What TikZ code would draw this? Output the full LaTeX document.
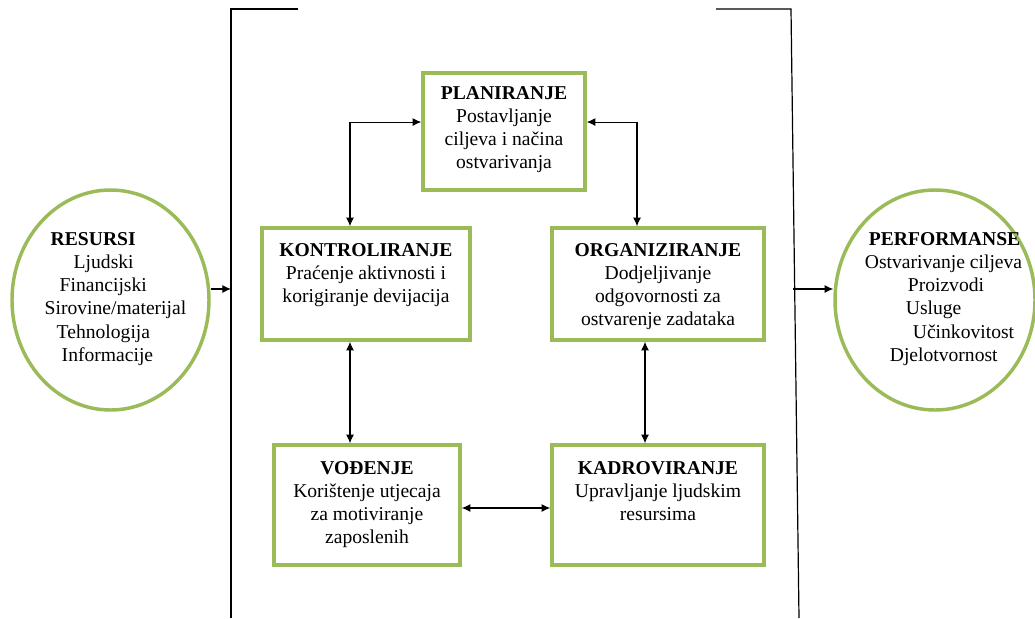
\documentclass[tikz,border=0pt]{standalone}
\usepackage{fontspec}
\setmainfont{Liberation Serif}
\usetikzlibrary{arrows.meta,shapes.geometric}
\definecolor{boxgreen}{RGB}{155,187,89}

\tikzset{
	box/.style={draw=boxgreen, line width=2.6pt, inner sep=0pt},
	oval/.style={draw=boxgreen, line width=2.6pt, ellipse, inner sep=0pt},
	txt/.style={align=center, inner sep=0pt, font=\fontsize{14.7}{17.3}\selectfont},
	link/.style={{Latex[length=6.5pt,width=6pt]}-{Latex[length=6.5pt,width=6pt]}, line width=0.8pt},
	into/.style={-{Latex[length=6.5pt,width=6pt]}, line width=0.8pt},
}

\begin{document}
\begin{tikzpicture}[x=0.75pt, y=-0.75pt]
	\useasboundingbox (0,0) rectangle (1035,618);
	% the organisation
	\coordinate (lt) at (298,9);
	\coordinate (lc) at (231,9);
	\coordinate (lb) at (231,618);
	\coordinate (lm) at (231,289);
	\coordinate (rt) at (716,9);
	\coordinate (rc) at (791,9);
	\coordinate (rb) at (799,618);
	\coordinate (rm) at (793,289);
	\draw[line width=0.9pt] (lt) -- (lc) -- (lb);
	\draw[line width=0.9pt] (rt) -- (rc) -- (rb);

	% functions
	\node[box, minimum width=121.5pt, minimum height=87.75pt] (plan) at (504,131.5) {};
	\node[box, minimum width=156pt, minimum height=84pt] (kon) at (366,284) {};
	\node[box, minimum width=159pt, minimum height=84pt] (org) at (658,284) {};
	\node[box, minimum width=139.5pt, minimum height=90pt] (vod) at (367,505) {};
	\node[box, minimum width=159pt, minimum height=90pt] (kad) at (658,505) {};

	\node[txt, anchor=north] (plantxt) at ([yshift=-11pt]plan.north) {\textbf{PLANIRANJE}\\Postavljanje\\ciljeva i načina\\ostvarivanja};
	\node[txt, anchor=north] (kontxt) at ([yshift=-12.5pt]kon.north) {\textbf{KONTROLIRANJE}\\Praćenje aktivnosti i\\korigiranje devijacija};
	\node[txt, anchor=north] (orgtxt) at ([yshift=-12.5pt]org.north) {\textbf{ORGANIZIRANJE}\\Dodjeljivanje\\odgovornosti za\\ostvarenje zadataka};
	\node[txt, anchor=north] (vodtxt) at ([yshift=-13.5pt]vod.north) {\textbf{VOĐENJE}\\Korištenje utjecaja\\za motiviranje\\zaposlenih};
	\node[txt, anchor=north] (kadtxt) at ([yshift=-13.5pt]kad.north) {\textbf{KADROVIRANJE}\\Upravljanje ljudskim\\resursima};

	% inputs and outputs
	\node[oval, minimum width=147.75pt, minimum height=165pt] (res) at (110.5,300) {};
	\node[oval, minimum width=150pt, minimum height=165pt] (perf) at (935,300) {};
	\node[txt, align=left] (restxt) at (115.5,299) {\hspace*{4.5pt}\textbf{RESURSI}\\\hspace*{21.75pt}Ljudski\\\hspace*{11.25pt}Financijski\\Sirovine/materijal\\\hspace*{9pt}Tehnologija\\\hspace*{12.75pt}Informacije};
	\node[txt, align=left] (perftxt) at (943.5,299) {\hspace*{3pt}\textbf{PERFORMANSE}\\Ostvarivanje ciljeva\\\hspace*{32.25pt}Proizvodi\\\hspace*{30.75pt}Usluge\\\hspace*{36pt}Učinkovitost\\\hspace*{18.75pt}Djelotvornost};

	% links
	\draw[link] ([xshift=-12pt]kon.north) |- ([yshift=7.1pt]plan.west);
	\draw[link] ([yshift=7.1pt]plan.east) -| ([xshift=-15.75pt]org.north);
	\draw[link] ([xshift=-12pt]kon.south) -- ([xshift=-12pt]kon.south |- vod.north);
	\draw[link] ([xshift=-9.75pt]org.south) -- ([xshift=-9.75pt]org.south |- kad.north);
	\draw[link] ([yshift=-2.25pt]vod.east) -- ([yshift=-2.25pt]vod.east -| kad.west);
	\draw[into] (res.east |- lm) -- (lm);
	\draw[into] (rm) -- (rm -| perf.west);
\end{tikzpicture}
\end{document}
